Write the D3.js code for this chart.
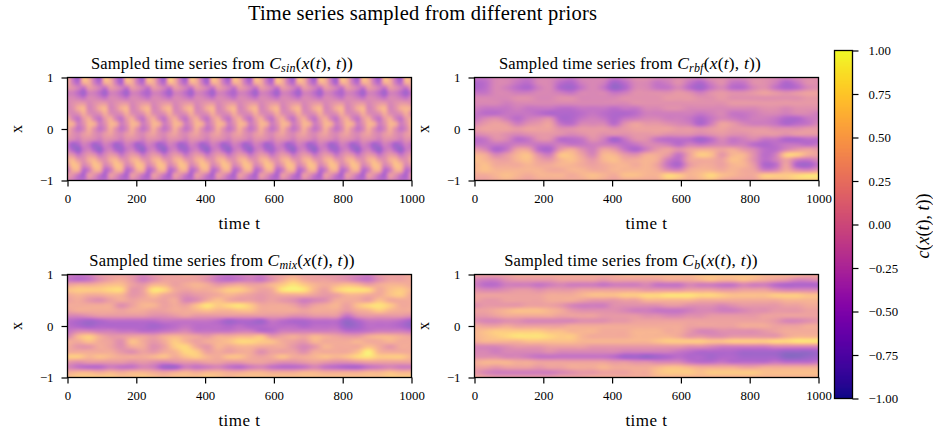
<!DOCTYPE html>
<html><head><meta charset="utf-8">
<script src="https://d3js.org/d3.v7.min.js"></script>
<style>html,body{margin:0;background:#fff}svg{display:block}text{font-family:"Liberation Serif",serif;fill:#000}</style>
</head><body><svg id="c" width="933" height="430"></svg>
<script>
// values in tenths of c(x(t),t); rows run x = 1 ... -1, columns run t = 0 ... 1000
const gridSin = [
[3,-3,-6,5,3,-3,-6,5,3,-3,-6,5,3,-3,-6,5,3,-3,-6,6,3,-3,-6,5,3,-3,-6,5,3,-3,-6,5,3,-3,-6,5,3,-3,-6,5,3,-3,-6,5,3,-3,-6,5,3,-3,-6,5,3,-3,-6,5,3,-3,-6,5,3,-3,-6,5,3],
[3,-2,-4,3,3,-2,-4,3,3,-2,-5,3,3,-2,-4,3,3,-2,-4,4,3,-2,-4,3,3,-2,-5,3,3,-2,-4,3,3,-2,-4,3,3,-2,-4,4,3,-2,-4,3,3,-2,-4,3,3,-2,-5,3,3,-2,-4,3,3,-2,-4,3,3,-2,-4,3,3],
[1,0,-2,-3,1,0,-2,-3,1,0,-2,-3,1,0,-2,-3,1,0,-2,-3,1,0,-2,-3,1,0,-2,-3,1,0,-2,-3,1,0,-2,-3,1,0,-2,-3,1,0,-2,-3,1,0,-2,-3,1,0,-2,-3,1,0,-2,-3,1,0,-2,-3,1,0,-2,-3,1],
[-2,-2,-4,-6,-2,-2,-4,-6,-2,-2,-4,-6,-2,-2,-4,-5,-2,-2,-4,-6,-2,-2,-4,-6,-2,-2,-4,-6,-2,-2,-4,-5,-2,-2,-4,-6,-2,-2,-4,-6,-2,-2,-4,-6,-2,-2,-4,-6,-2,-2,-4,-5,-2,-2,-4,-6,-2,-2,-4,-6,-2,-2,-4,-6,-3],
[-1,-1,-2,-3,-1,-1,-2,-3,-1,-1,-2,-3,-1,-1,-2,-3,-1,-1,-2,-3,-1,-1,-2,-3,-1,-1,-2,-3,-1,-1,-2,-3,-1,-1,-2,-3,-1,-1,-2,-3,-1,-1,-2,-3,-1,-1,-2,-3,-1,-1,-2,-3,-1,-1,-2,-3,-1,-1,-2,-3,-1,-1,-2,-3,-1],
[-1,0,1,1,-1,0,1,1,-1,0,1,1,-1,0,1,1,-1,0,1,1,-1,0,1,1,-1,0,1,1,-1,0,1,1,-1,0,1,1,-1,0,1,1,-1,0,1,1,-1,0,1,1,-1,0,1,1,-1,0,1,1,-1,0,1,1,-1,0,1,1,0],
[-1,0,3,4,-1,0,3,4,-1,0,3,4,-1,0,3,4,-1,0,3,4,-1,0,3,4,-1,0,3,4,-1,0,3,4,-1,0,3,4,-1,0,3,4,-1,0,3,4,-1,0,3,4,-1,0,3,4,-1,0,3,4,-1,0,3,4,-1,0,3,4,3],
[0,-1,0,3,0,-1,0,3,0,-1,0,3,0,-1,0,3,0,-1,0,3,0,-1,0,3,0,-1,0,3,0,-1,0,3,0,-1,0,3,0,-1,0,3,0,-1,0,3,0,-1,0,3,0,-1,0,3,0,-1,0,3,0,-1,0,3,0,-1,0,3,0],
[3,-1,-3,1,3,-1,-3,1,3,-1,-3,1,3,-1,-3,1,3,-1,-3,1,3,-1,-3,1,3,-1,-3,1,3,-1,-3,1,3,-1,-3,1,3,-1,-3,1,3,-1,-3,1,3,-1,-3,1,3,-1,-3,1,3,-1,-3,1,3,-1,-3,1,3,-1,-3,1,3],
[4,3,-2,0,4,3,-2,0,4,3,-2,0,4,3,-2,0,4,3,-2,0,4,3,-2,0,4,3,-2,0,4,3,-2,0,4,3,-2,0,4,3,-2,0,4,3,-2,0,4,3,-2,0,4,3,-2,0,4,3,-2,0,4,3,-2,0,4,3,-2,0,4],
[3,0,-3,-1,3,0,-3,-1,3,0,-3,-1,3,0,-3,-1,3,0,-3,-1,3,0,-3,-1,3,0,-3,-1,3,0,-3,-1,3,0,-3,-1,3,0,-3,-1,3,0,-3,-1,3,0,-3,-1,3,0,-3,-1,3,0,-3,-1,3,0,-3,-1,3,0,-3,-1,3],
[2,0,-1,1,2,0,-1,1,2,0,-1,1,2,0,-1,1,2,0,-1,1,2,0,-1,1,2,0,-1,1,2,0,-1,1,2,0,-1,1,2,0,-1,1,2,0,-1,1,2,0,-1,1,2,0,-1,1,2,0,-1,1,2,0,-1,1,2,0,-1,1,2],
[0,-1,-2,0,0,-1,-2,0,0,-1,-2,0,0,-1,-2,0,0,-1,-2,0,0,-1,-2,0,0,-1,-2,0,0,-1,-2,0,0,-1,-2,0,0,-1,-2,0,0,-1,-2,0,0,-1,-2,0,0,-1,-2,0,0,-1,-2,0,0,-1,-2,0,0,-1,-2,0,0],
[-3,-6,-5,-2,-3,-6,-5,-2,-3,-6,-5,-2,-3,-6,-5,-2,-3,-6,-5,-2,-3,-6,-5,-2,-3,-6,-5,-2,-3,-6,-5,-2,-3,-6,-5,-2,-3,-6,-5,-2,-3,-6,-5,-2,-3,-6,-5,-2,-3,-6,-5,-2,-3,-6,-5,-2,-3,-6,-5,-2,-3,-6,-5,-2,-3],
[-2,-5,-7,-3,-2,-5,-7,-3,-2,-5,-6,-3,-2,-5,-7,-3,-2,-5,-7,-3,-2,-5,-6,-3,-2,-5,-7,-3,-2,-5,-7,-3,-2,-5,-7,-3,-2,-5,-6,-3,-2,-5,-7,-3,-2,-5,-7,-3,-2,-5,-6,-3,-2,-5,-7,-3,-2,-5,-7,-3,-2,-5,-7,-3,-2],
[1,0,-3,-1,1,0,-3,-1,1,0,-3,-1,1,0,-3,-1,1,0,-3,-1,1,0,-3,-1,1,0,-3,-1,1,0,-3,-1,1,0,-3,-1,1,0,-3,-1,1,0,-3,-1,1,0,-3,-1,1,0,-3,-1,1,0,-3,-1,1,0,-3,-1,1,0,-3,-1,1],
[3,4,1,0,3,4,1,0,3,4,1,0,3,4,1,0,3,4,1,0,3,4,1,0,3,4,1,0,3,4,1,0,3,4,1,0,3,4,1,0,3,4,1,0,3,4,1,0,3,4,1,0,3,4,1,0,3,4,1,0,3,4,1,0,3],
[1,5,4,-1,1,5,4,-1,1,5,4,-1,1,5,4,-1,1,5,4,-1,1,5,4,-1,1,5,4,-1,1,5,4,-1,1,5,4,-1,1,5,4,-1,1,5,4,-1,1,5,4,-1,1,5,4,-1,1,5,4,-1,1,5,4,-1,1,5,4,-1,1],
[-2,3,3,-4,-2,3,3,-4,-2,3,3,-4,-2,3,3,-4,-2,3,3,-4,-2,3,3,-4,-2,3,3,-4,-2,3,3,-4,-2,3,3,-4,-2,3,3,-4,-2,3,3,-4,-2,3,3,-4,-2,3,3,-4,-2,3,3,-4,-2,3,3,-4,-2,3,3,-4,-2],
[1,0,-3,-5,1,0,-3,-5,1,0,-3,-5,1,0,-3,-5,1,0,-3,-5,1,0,-3,-5,1,0,-3,-5,1,0,-3,-5,1,0,-3,-5,1,0,-3,-5,1,0,-3,-5,1,0,-3,-5,1,0,-3,-5,1,0,-3,-5,1,0,-3,-5,1,0,-3,-5,1],
[-1,-2,-4,-4,-1,-2,-4,-4,-1,-2,-4,-4,-1,-2,-4,-4,-1,-2,-4,-4,-1,-2,-4,-4,-1,-2,-4,-4,-1,-2,-4,-4,-1,-2,-4,-4,-1,-2,-4,-4,-1,-2,-4,-4,-1,-2,-4,-4,-1,-2,-4,-4,-1,-2,-4,-4,-1,-2,-4,-4,-1,-2,-4,-4,-1]
];
const gridRbf = [
[-3,-3,-1,-1,-2,-3,-1,-1,-2,-3,-1,-1,-1,-3,-2,0,0,-1,-1,0,-1,-2,0,0,-1,-1,0,0,-1,-2,-1,0,0],
[-5,-4,-1,-1,-3,-4,-1,-1,-4,-5,-2,-1,-2,-6,-4,-1,-1,-3,-2,0,-3,-5,-2,0,-3,-3,0,0,-2,-5,-3,0,0],
[-5,-4,-1,-2,-4,-5,-2,-1,-5,-6,-3,-1,-3,-7,-5,-1,-1,-3,-3,-1,-4,-6,-3,-1,-4,-4,-1,0,-3,-5,-4,-1,0],
[-3,-3,-1,-1,-2,-2,-1,-1,-2,-3,-1,-1,-1,-3,-2,0,0,0,0,1,0,-2,0,1,0,0,1,2,1,0,1,2,2],
[-1,-1,-1,-1,0,0,-1,-1,0,0,-1,-1,-1,-1,0,0,0,0,1,1,1,0,0,1,0,0,0,0,0,0,0,1,1],
[-1,-1,-1,-2,-1,-1,-1,-1,-1,-1,-1,-1,-1,-1,-1,0,0,0,0,0,0,0,0,0,1,1,1,1,1,1,1,1,1],
[-2,-3,-3,-3,-2,-3,-3,-3,-4,-4,-3,-3,-3,-4,-3,-3,-1,-1,0,0,-1,-1,-1,-1,-1,-1,-1,0,0,-1,0,0,0],
[-3,-4,-4,-3,-3,-3,-4,-5,-5,-5,-4,-3,-4,-5,-5,-4,-2,-2,-2,-2,-2,-3,-2,-1,-3,-3,-2,-1,-1,-2,-1,-1,-2],
[-3,-1,0,-2,-4,-2,-1,0,-5,-5,-3,-2,-3,-5,-3,-2,-1,-1,-2,-2,-3,-5,-3,-1,-2,-3,-2,-2,-3,-5,-5,-3,-2],
[-1,1,2,1,-2,0,1,2,-3,-4,-1,-1,-1,-4,0,2,1,1,0,-1,-2,-5,-2,2,1,-1,-2,-2,-3,-5,-4,-3,-1],
[1,2,2,2,1,2,2,2,0,0,1,1,1,0,1,2,2,2,2,1,1,0,1,2,1,1,1,1,0,0,0,1,1],
[-1,0,1,0,-1,0,1,1,0,-1,0,1,0,0,0,1,1,1,0,0,0,-1,0,1,0,0,1,1,1,0,1,1,1],
[-4,-3,0,-1,-4,-3,0,0,-4,-4,-3,0,-2,-6,-3,0,0,-3,-4,-4,-4,-6,-4,-1,-3,-2,-1,-3,-3,-5,-5,-4,-4],
[-3,-3,-3,-3,-2,-2,-3,-3,-2,-3,-3,-2,-2,-3,-4,-3,-1,-1,-2,-4,-2,-3,-2,-1,-2,-2,-4,-5,-4,-3,-3,-4,-3],
[1,-1,-5,-3,2,2,-4,-5,1,3,0,-2,2,1,-3,-5,-2,1,2,0,2,3,3,2,3,1,-1,-4,-4,-1,1,2,1],
[4,3,-1,1,4,5,0,-2,5,5,2,-1,4,4,1,0,3,3,1,-3,2,6,5,1,4,4,0,-4,-2,6,6,3,2],
[5,4,2,2,4,5,2,1,4,5,3,1,4,5,3,3,4,3,-2,-4,2,3,3,2,5,4,0,-4,-2,2,-2,-3,-1],
[4,5,3,3,3,4,3,3,4,4,3,2,3,4,4,3,4,2,-3,-5,1,3,3,2,4,4,1,-5,-4,2,-5,-6,-3],
[4,5,4,4,4,4,4,3,3,4,4,3,3,4,4,4,4,3,0,-1,3,4,4,3,4,3,2,-2,-1,3,0,-1,1],
[3,3,4,5,4,3,4,4,4,3,4,5,4,3,5,5,4,4,7,6,4,5,7,5,4,3,3,6,6,6,7,8,8],
[2,2,3,4,3,2,3,3,3,3,3,4,3,2,3,3,3,3,5,4,3,4,5,3,2,2,2,4,4,5,6,6,6]
];
const gridMix = [
[-2,-3,-2,1,2,2,1,-1,1,2,2,3,2,1,-2,-3,-2,-1,-2,1,2,3,2,2,1,1,0,-1,-2,1,2,2,3],
[-3,-4,-3,0,2,3,1,-2,0,2,2,2,2,0,-3,-4,-3,-2,-3,0,3,5,3,2,2,1,0,-2,-3,0,2,2,3],
[2,3,3,4,5,5,2,1,4,4,2,3,4,3,1,2,3,2,2,4,6,8,6,4,3,4,5,4,2,3,4,4,3],
[5,6,6,6,7,7,1,2,8,7,3,2,3,3,4,6,6,4,2,3,8,9,8,4,2,6,8,8,7,3,5,6,4],
[3,4,3,3,4,4,1,2,5,3,2,0,1,2,3,4,3,2,1,2,3,3,3,2,1,2,4,4,3,3,5,6,3],
[2,3,1,0,2,3,2,3,3,2,3,-1,0,3,5,3,2,2,1,2,1,0,-2,-1,0,3,3,3,2,5,3,3,3],
[3,3,3,3,3,0,2,4,4,2,3,2,5,8,6,7,8,6,3,3,3,2,0,2,3,4,2,5,7,8,6,3,3],
[2,3,3,3,3,2,3,3,2,2,3,3,4,5,4,4,5,5,3,3,3,3,2,3,3,3,1,3,4,6,4,3,3],
[-1,-1,0,1,1,1,1,1,0,0,1,2,1,1,1,1,1,1,1,1,1,0,0,1,1,1,-3,0,1,1,1,1,0],
[-4,-5,-6,-5,-4,-4,-4,-4,-4,-3,-3,-3,-3,-3,-4,-6,-5,-5,-6,-3,-4,-5,-5,-4,-4,-4,-7,-5,-3,-3,-3,-4,-6],
[-4,-5,-6,-5,-5,-5,-5,-5,-6,-5,-4,-3,-4,-4,-4,-5,-4,-5,-5,-4,-4,-4,-5,-4,-4,-4,-7,-6,-4,-4,-4,-5,-7],
[-3,-1,-1,-2,-2,-3,-3,-4,-4,-3,-2,-1,-3,-3,-3,-3,-2,-2,-4,-4,-2,-2,-2,-2,-2,-2,-4,-4,-3,-2,-2,-2,-3],
[-1,4,6,3,1,1,2,2,1,3,4,3,2,1,3,3,4,4,5,1,2,3,2,4,3,2,1,1,3,4,4,3,2],
[3,3,5,3,2,0,5,3,1,3,6,4,2,3,4,5,7,7,6,5,3,2,1,4,3,3,3,4,3,3,4,3,3],
[3,1,1,3,2,0,3,3,0,2,6,7,3,1,4,3,4,4,3,3,3,1,-1,1,4,3,3,3,5,3,1,3,3],
[3,3,3,3,3,1,0,2,1,3,4,7,6,2,3,2,3,3,0,2,2,2,0,3,3,3,3,5,9,4,3,3,3],
[6,6,4,5,4,3,3,3,4,5,3,5,6,4,3,5,5,3,2,3,5,3,3,4,5,4,5,7,8,6,6,6,4],
[1,0,1,1,1,1,0,1,0,-1,0,1,1,2,2,1,1,2,2,1,0,0,1,2,1,0,0,1,2,2,2,2,2],
[-1,-3,-4,-4,-2,-3,-3,-1,-2,-6,-6,-2,-3,-2,-1,-3,-4,-2,-1,-3,-4,-4,-3,-1,-3,-4,-5,-5,-3,-2,-1,-2,-2],
[3,4,4,3,4,3,4,4,3,2,3,4,3,4,4,3,3,4,4,3,3,3,4,4,3,3,3,3,4,4,5,4,4],
[5,6,6,6,6,5,5,6,5,4,5,5,5,6,5,4,5,5,5,5,5,5,5,5,5,5,5,5,5,5,6,6,6]
];
const gridB = [
[2,2,2,2,3,3,3,3,3,3,3,3,3,3,4,4,4,4,4,4,4,5,5,5,5,5,5,4,4,4,4,3,3],
[-1,-2,-2,0,1,1,1,1,2,2,2,2,1,2,2,2,2,2,3,3,3,4,5,4,4,5,4,3,2,1,-1,-1,0],
[-2,-4,-4,-2,-2,-2,-3,-2,-1,-2,-2,-2,-3,-2,-2,-2,-1,-3,-3,-3,-1,-2,-2,-3,-3,-1,-2,-2,-4,-5,-5,-5,-5],
[0,-1,-1,0,1,1,0,1,1,1,2,2,2,2,2,2,1,1,1,1,2,2,2,1,1,2,2,2,0,-1,-1,-1,-1],
[2,2,2,2,2,2,2,3,3,3,4,5,5,5,6,6,7,7,8,8,8,7,7,6,5,5,5,5,6,6,6,5,5],
[2,1,1,2,2,2,2,3,3,3,2,1,1,1,2,2,4,4,4,4,4,3,3,3,3,3,3,3,3,4,4,4,4],
[0,1,1,1,1,2,2,2,1,-1,-2,-2,-2,0,0,0,0,0,1,1,0,0,0,-1,0,1,1,1,1,2,2,3,3],
[2,2,3,4,5,5,5,4,3,1,0,0,0,0,-1,-2,-2,-3,-3,-3,-2,-1,-1,-2,-2,-1,0,0,1,1,1,2,2],
[1,1,2,3,3,3,3,3,2,2,2,2,1,1,1,1,0,0,-1,-1,0,0,1,1,1,1,1,2,2,2,2,2,2],
[0,-1,-1,0,0,-1,-1,-1,-1,-1,0,0,0,1,1,2,2,2,2,2,2,2,2,2,2,2,2,2,1,-1,-1,0,1],
[3,2,2,3,2,2,2,2,2,3,3,3,3,3,3,3,3,3,3,3,2,2,2,2,2,3,3,3,2,2,2,3,3],
[4,5,6,6,6,6,6,5,5,4,4,4,3,3,3,4,4,4,3,3,1,-1,-1,0,0,0,0,1,2,3,3,3,3],
[4,5,6,7,8,8,8,7,6,6,4,3,3,3,3,4,4,4,4,3,1,1,0,0,1,1,1,1,1,3,4,4,4],
[3,4,4,4,4,5,5,5,5,5,4,4,4,4,4,4,4,5,6,6,6,6,5,5,6,6,6,6,7,7,8,8,8],
[-1,-1,-1,0,1,1,1,2,2,2,2,1,1,1,1,1,1,1,1,1,0,0,-1,-2,-2,-2,-2,-2,-1,-1,-1,-1,-1],
[-1,-1,-2,-1,-1,-1,-1,0,-1,-1,-1,-1,-1,-1,-2,-2,-2,-2,-2,-3,-4,-5,-5,-5,-5,-6,-6,-6,-6,-7,-7,-7,-6],
[0,0,0,-1,-1,-2,-3,-3,-3,-3,-3,-3,-3,-4,-6,-6,-7,-6,-5,-4,-5,-5,-6,-5,-5,-6,-6,-6,-6,-8,-8,-7,-6],
[3,4,4,4,3,3,2,2,2,2,2,2,2,1,1,0,0,-1,-1,-1,-3,-4,-4,-3,-4,-4,-4,-4,-3,-4,-4,-4,-3],
[2,2,1,2,2,2,1,2,2,3,3,3,4,3,3,3,3,4,5,5,4,3,3,3,3,2,2,3,3,3,3,3,3],
[1,-1,-2,-2,-2,-2,-2,-2,-1,0,1,1,2,2,2,3,3,5,6,6,6,5,6,6,6,6,6,5,5,5,5,5,5],
[3,2,1,1,1,1,1,1,2,2,2,3,3,3,3,3,3,4,4,4,4,4,4,4,4,4,4,4,4,4,4,4,4]
];
const subscripts = ["sin","rbf","mix","b"];
const timeTicks = [0,200,400,600,800,1000];
const xTicks = [-1,0,1];
const cTicks = [-1,-0.75,-0.5,-0.25,0,0.25,0.5,0.75,1];

const svg = d3.select("#c");
const color = d3.scaleSequential(d3.interpolatePlasma).domain([-1,1]);
const fmtMinus = s => String(s).replace("-","\u2212");
const panels = [
 {g:gridSin,sub:subscripts[0],x:67.5,y:77.5,tx:222},
 {g:gridRbf,sub:subscripts[1],x:474.5,y:77.5,tx:630},
 {g:gridMix,sub:subscripts[2],x:67.5,y:274.5,tx:222},
 {g:gridB,sub:subscripts[3],x:474.5,y:274.5,tx:631}
];
const W=344,H=103;
const cr=(a,b,c,d,t)=>b+0.5*t*(c-a+t*(2*a-5*b+4*c-d+t*(3*(b-c)+d-a)));
function sample(g,u,v){
  const m=g.length,n=g[0].length;
  const j=Math.min(Math.floor(u),n-2),i=Math.min(Math.floor(v),m-2),fu=u-j,fv=v-i;
  const at=(r,c)=>g[Math.max(0,Math.min(m-1,r))][Math.max(0,Math.min(n-1,c))]/10;
  const row=r=>cr(at(r,j-1),at(r,j),at(r,j+1),at(r,j+2),fu);
  return cr(row(i-1),row(i),row(i+1),row(i+2),fv);
}
panels.forEach(p=>{
  const x=d3.scaleLinear().domain([0,1000]).range([0,W]);
  const y=d3.scaleLinear().domain([-1,1]).range([H,0]);
  const g=svg.append("g").attr("transform",`translate(${p.x},${p.y})`);
  const cv=document.createElement("canvas");cv.width=W;cv.height=H;
  const ctx=cv.getContext("2d");const im=ctx.createImageData(W,H);
  const n=p.g[0].length,m=p.g.length;
  for(let r=0;r<H;r++)for(let c=0;c<W;c++){
    const t=x.invert(c+.5),xv=y.invert(r+.5);
    const val=Math.max(-1,Math.min(1,sample(p.g,t/1000*(n-1),(1-xv)/2*(m-1))));
    const col=d3.rgb(color(val));const k=(r*W+c)*4;
    im.data[k]=col.r;im.data[k+1]=col.g;im.data[k+2]=col.b;im.data[k+3]=255;
  }
  ctx.putImageData(im,0,0);
  g.append("image").attr("href",cv.toDataURL()).attr("width",W).attr("height",H).attr("opacity",0.6);
  const ax=g.append("g").attr("transform",`translate(0,${H})`)
    .call(d3.axisBottom(x).tickValues(timeTicks).tickFormat(d=>String(d)).tickSize(6).tickPadding(7));
  const ay=g.append("g").call(d3.axisLeft(y).tickValues(xTicks).tickFormat(d=>fmtMinus(d)).tickSize(6).tickPadding(8));
  [ax,ay].forEach(a=>{a.select(".domain").remove();a.selectAll("line").attr("stroke","#000").attr("stroke-width",1.2);
    a.selectAll("text").attr("font-size",12.8).attr("font-family","Liberation Serif").attr("fill","#222");});
  g.append("rect").attr("width",W).attr("height",H).attr("fill","none").attr("stroke","#000").attr("stroke-width",1.3);
  g.append("text").attr("x",W/2).attr("y",H+48).attr("text-anchor","middle").attr("font-size",17).attr("letter-spacing",0.5).attr("fill","#222").text("time t");
  g.append("text").attr("transform",`translate(-46,${H/2}) rotate(-90)`).attr("text-anchor","middle").attr("font-size",16).attr("fill","#222").text("x");
  const t=g.append("text").attr("x",p.tx-p.x).attr("y",-9).attr("text-anchor","middle").attr("font-size",16.5).attr("fill","#222").attr("letter-spacing",0.2);
  t.append("tspan").text("Sampled time series from ");
  t.append("tspan").attr("font-style","italic").attr("font-size",17.5).text("C");
  t.append("tspan").attr("font-style","italic").attr("font-size",12).attr("dy",3).text(p.sub);
  t.append("tspan").attr("dy",-3).attr("font-size",17.5).text("(");
  t.append("tspan").attr("font-style","italic").attr("font-size",17.5).text("x");
  t.append("tspan").attr("font-size",17.5).text("(");
  t.append("tspan").attr("font-style","italic").attr("font-size",17.5).text("t");
  t.append("tspan").attr("font-size",17.5).text("), ");
  t.append("tspan").attr("font-style","italic").attr("font-size",17.5).text("t");
  t.append("tspan").attr("font-size",17.5).text("))");
});
svg.append("text").attr("x",422.5).attr("y",20).attr("text-anchor","middle").attr("font-size",20.5).attr("letter-spacing",0.2).attr("fill","#222").text("Time series sampled from different priors");
// colorbar
const cbX=834.5,cbY=50.5,cbW=18,cbH=348;
const cb=svg.append("g").attr("transform",`translate(${cbX},${cbY})`);
const cy=d3.scaleLinear().domain([-1,1]).range([cbH,0]);
cb.selectAll("rect.s").data(d3.range(cbH)).join("rect").attr("class","s").attr("x",0).attr("width",cbW)
  .attr("y",d=>d).attr("height",1.5).attr("fill",d=>color(cy.invert(d+.5)));
cb.append("rect").attr("width",cbW).attr("height",cbH).attr("fill","none").attr("stroke","#000").attr("stroke-width",1.3);
const cax=cb.append("g").attr("transform",`translate(${cbW},0)`)
  .call(d3.axisRight(cy).tickValues(cTicks).tickFormat(d=>fmtMinus(d3.format(".2f")(d))).tickSize(6).tickPadding(10));
cax.select(".domain").remove();
cax.selectAll("line").attr("stroke","#000").attr("stroke-width",1.2);
cax.selectAll("text").attr("font-size",12.8).attr("font-family","Liberation Serif").attr("fill","#222");
const cl=svg.append("text").attr("transform","translate(929,226) rotate(-90)").attr("text-anchor","middle").attr("font-size",18).attr("fill","#222");
[["c",1],["(",0],["x",1],["(",0],["t",1],["), ",0],["t",1],["))",0]].forEach(([s,i])=>cl.append("tspan").attr("font-style",i?"italic":"normal").text(s));
</script></body></html>
